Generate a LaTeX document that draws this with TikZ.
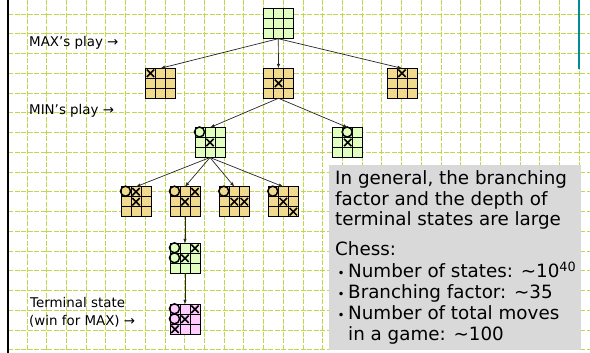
\documentclass[tikz,border=0pt]{standalone}
\usepackage{fontspec}
\setmainfont{DejaVu Sans}
\usetikzlibrary{arrows.meta,calc}
\definecolor{gridc}{RGB}{190,216,80}
\definecolor{bgreen}{RGB}{224,255,192}
\definecolor{btan}{RGB}{241,218,142}
\definecolor{bpink}{RGB}{255,204,255}
\definecolor{boxgray}{RGB}{217,217,217}
\definecolor{tealc}{RGB}{0,140,150}
\newcommand{\bgrid}[1]{%
  \draw[line width=0.9pt]
    ([shift={(10,0)}]#1.north west) -- ([shift={(10,0)}]#1.south west)
    ([shift={(20,0)}]#1.north west) -- ([shift={(20,0)}]#1.south west)
    ([shift={(0,10)}]#1.north west) -- ([shift={(0,10)}]#1.north east)
    ([shift={(0,20)}]#1.north west) -- ([shift={(0,20)}]#1.north east);}
\newcommand{\markX}[3]{%
  \draw[line width=1.5pt]
    ([shift={({#3*10-5-3.7},{#2*10-5-3.7})}]#1.north west) -- ([shift={({#3*10-5+3.7},{#2*10-5+3.7})}]#1.north west)
    ([shift={({#3*10-5-3.7},{#2*10-5+3.7})}]#1.north west) -- ([shift={({#3*10-5+3.7},{#2*10-5-3.7})}]#1.north west);}
\newcommand{\markO}[3]{%
  \draw[line width=1.5pt] ([shift={({#3*10-5.5},{#2*10-5.5})}]#1.north west) circle[radius=5pt];}
\newcommand{\bul}{\makebox[12pt][l]{\hspace{1.5pt}{\fontsize{12}{12}\selectfont •}}}
\begin{document}
\begin{tikzpicture}[x=1pt,y=-1pt,
  board/.style={draw=black, line width=0.9pt, minimum width=30pt, minimum height=30pt, inner sep=0pt, outer sep=0pt},
  edge/.style={draw=black!85, line width=0.7pt, -{Latex[length=4.5pt,width=3.5pt]}},
  lbl/.style={inner sep=0pt, anchor=base west, font=\fontsize{13.4}{16}\selectfont},
  boxt/.style={inner sep=0pt, anchor=base west, font=\fontsize{18.3}{20}\selectfont},
  gridline/.style={draw=gridc, line width=1pt, dash pattern=on 5pt off 1.5pt}]
\useasboundingbox (0,0) rectangle (590,353);
% background grid
\foreach \k in {0,...,28} \draw[gridline] ({27+\k*19.72},0) -- ({27+\k*19.72},351);
\foreach \k in {0,...,17} \draw[gridline] (8,{14.2+\k*19.75}) -- (590,{14.2+\k*19.75});
\draw[line width=2pt] (8,0) -- (8,353);
\draw[tealc, line width=1.3pt] (579,0) -- (579,69);
% info box
\node[fill=boxgray, minimum width=252.7pt, minimum height=184.3pt, inner sep=0pt, anchor=north west] (info) at (328.3,165) {};
% boards
\node[board, fill=bgreen] (b0) at (278.3,23.7) {};
\node[board, fill=btan] (a1) at (160.5,83.3) {};
\node[board, fill=btan] (a2) at (278.5,83.3) {};
\node[board, fill=btan] (a3) at (402,83.3) {};
\node[board, fill=bgreen] (m1) at (210,142.5) {};
\node[board, fill=bgreen] (m2) at (347.7,142.5) {};
\node[board, fill=btan] (c1) at (136,201.7) {};
\node[board, fill=btan] (c2) at (185,201.7) {};
\node[board, fill=btan] (c3) at (234.3,201.7) {};
\node[board, fill=btan] (c4) at (283.3,201.7) {};
\node[board, fill=bgreen] (d1) at (185,258.3) {};
\node[board, fill=bpink] (t1) at (185,319.3) {};
\foreach \n in {b0,a1,a2,a3,m1,m2,c1,c2,c3,c4,d1,t1} {\bgrid{\n}}
% marks
\markX{a1}{1}{1}
\markX{a2}{2}{2}
\markX{a3}{1}{2}
\markO{m1}{1}{1}\markX{m1}{2}{2}
\markO{m2}{1}{2}\markX{m2}{2}{2}
\markO{c1}{1}{1}\markX{c1}{1}{2}\markX{c1}{2}{2}
\markO{c2}{1}{1}\markX{c2}{1}{3}\markX{c2}{2}{2}
\markO{c3}{1}{1}\markX{c3}{2}{2}\markX{c3}{2}{3}
\markO{c4}{1}{1}\markX{c4}{2}{2}\markX{c4}{3}{3}
\markO{d1}{1}{1}\markO{d1}{2}{1}\markX{d1}{1}{3}\markX{d1}{2}{2}
\markO{t1}{1}{1}\markO{t1}{2}{1}\markX{t1}{1}{3}\markX{t1}{2}{2}\markX{t1}{3}{1}
% edges
\draw[edge] (b0.south) -- (a1.north);
\draw[edge] (b0.south) -- (a2.north);
\draw[edge] (b0.south) -- (a3.north);
\draw[edge] (a2.south) -- (m1.north);
\draw[edge] (a2.south) -- (m2.north);
\draw[edge] (m1.south) -- (c1.north);
\draw[edge] (m1.south) -- (c2.north);
\draw[edge] (m1.south) -- (c3.north);
\draw[edge] (m1.south) -- (c4.north);
\draw[edge] (c2.south) -- (d1.north);
\draw[edge] (d1.south) -- (t1.north);
% labels
\node[lbl] (tmax) at (29,46.5) {MAX’s play →};
\node[lbl] (tmin) at (29,115) {MIN’s play →};
\node[lbl] (tterm1) at (30,307.7) {Terminal state};
\node[lbl] (tterm2) at (29,325.7) {(win for MAX) →};
% box text
\node[boxt] (l1) at (335,184.3) {In general, the branching};
\node[boxt] (l2) at (335,205) {factor and the depth of};
\node[boxt] (l3) at (335,225.7) {terminal states are large};
\node[boxt] (l4) at (335,255) {Chess:};
\node[boxt] (l5) at (336,277.7) {\bul Number of states: \symbol{126}10\textsuperscript{40}};
\node[boxt] (l6) at (336,298.3) {\bul Branching factor: \symbol{126}35};
\node[boxt] (l7) at (336,319.3) {\bul Number of total moves};
\node[boxt] (l8) at (348,340) {in a game: \symbol{126}100};
\end{tikzpicture}
\end{document}
